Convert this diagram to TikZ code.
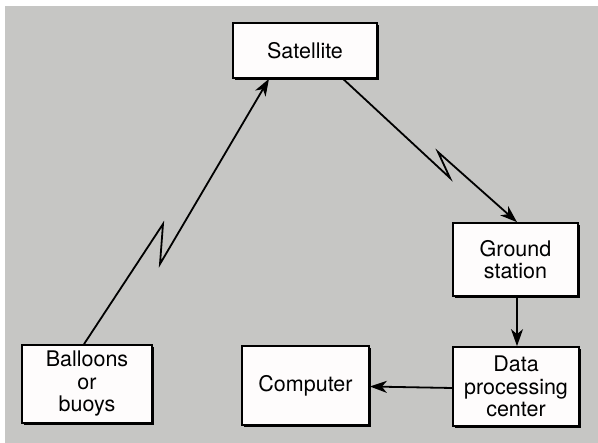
\documentclass[tikz,border=0pt]{standalone}
\usepackage{fontspec}
\setmainfont{TeX Gyre Heros}
\usetikzlibrary{arrows.meta,shadows}
\definecolor{panel}{HTML}{C6C6C4}
\definecolor{boxfill}{HTML}{FEFCFC}
\tikzset{
  blk/.style={draw=black, line width=1.7pt, fill=boxfill, align=center,
    font=\fontsize{21.5pt}{22.5pt}\selectfont, inner sep=0pt,
    drop shadow={shadow xshift=1.8pt, shadow yshift=-1.8pt, fill=black, opacity=1}},
  link/.style={line width=1.8pt, line join=miter,
    -{Stealth[length=17pt, width=12pt, inset=5pt]}}
}
\begin{document}
\begin{tikzpicture}[x=1pt, y=-1pt]
  % page and grey panel
  \useasboundingbox (0,0) rectangle (598,443);
  \fill[white] (0,0) rectangle (598,443);
  \fill[panel] (5,6) rectangle (598,443);

  % blocks
  \node[blk, minimum width=144pt, minimum height=55pt] (sat) at (305,50.5) {Satellite};
  \node[blk, minimum width=125pt, minimum height=73pt] (gs) at (515.5,259.5) {Ground\\station};
  \node[blk, minimum width=126pt, minimum height=79pt] (dp) at (516,386.5) {Data\\processing\\center};
  \node[blk, minimum width=130pt, minimum height=78pt] (bal) at (87,384) {Balloons\\or\\buoys};
  \node[blk, minimum width=127pt, minimum height=79pt] (comp) at (305.5,385.5) {Computer};

  % radio links with a zigzag break
  \coordinate (up1) at (163,224);
  \coordinate (up2) at (160,264);
  \draw[link] ([xshift=-3pt]bal.north) -- (up1) -- (up2) -- ([xshift=-36pt]sat.south);

  \coordinate (dn1) at (450,178);
  \coordinate (dn2) at (438,152);
  \draw[link] ([xshift=38pt]sat.south) -- (dn1) -- (dn2) -- ([xshift=1.5pt]gs.north);

  % wired links
  \draw[link] ([xshift=1.5pt]gs.south) -- ([xshift=1pt]dp.north);
  \draw[link] ([yshift=-1.5pt]dp.west) -- (dp.west -| comp.east);
\end{tikzpicture}
\end{document}
